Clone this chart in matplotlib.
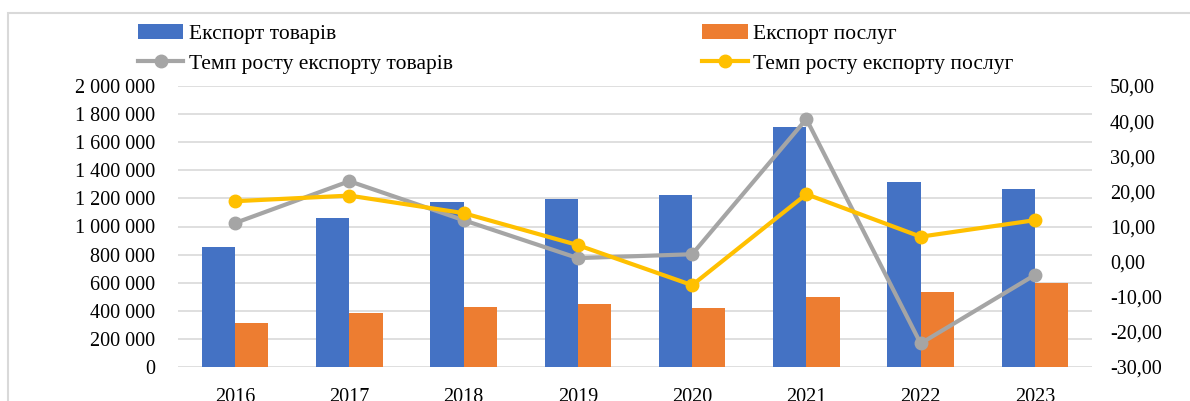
import numpy as np
import matplotlib.pyplot as plt
from matplotlib.patches import Rectangle
from matplotlib.ticker import FuncFormatter

plt.rcParams.update({'font.size': 14.5,
                     'font.family': 'serif',
                     'font.serif': ['Liberation Serif', 'DejaVu Serif']})

years = ['2016', '2017', '2018', '2019', '2020', '2021', '2022', '2023']
goods = [856000, 1058000, 1174000, 1196000, 1224000, 1710000, 1319000, 1265000]
services = [315000, 382000, 427000, 448000, 420000, 496000, 534000, 600000]
goods_growth = [11.0, 22.9, 11.8, 1.0, 2.1, 40.6, -23.3, -3.8]
services_growth = [17.2, 18.8, 13.8, 4.7, -6.7, 19.2, 7.1, 11.8]

fig = plt.figure(figsize=(11.9, 4.01), dpi=100)
ax = fig.add_axes([178/1190, 1-367/401, (1092-178)/1190, (367-86)/401])
ax2 = ax.twinx()

x = np.arange(len(years))
w = 0.29
b1 = ax.bar(x - w/2, goods, w, color='#4472C4', label='Експорт товарів', zorder=2)
b2 = ax.bar(x + w/2, services, w, color='#ED7D31', label='Експорт послуг', zorder=2)

l1, = ax2.plot(x, goods_growth, '-o', color='#A5A5A5', lw=3, ms=9,
               label='Темп росту експорту товарів')
l2, = ax2.plot(x, services_growth, '-o', color='#FFC000', lw=3, ms=9,
               label='Темп росту експорту послуг')

ax.set_xlim(-0.5, 7.5)
ax.set_ylim(0, 2000000)
ax.set_yticks(np.arange(0, 2000001, 200000))
ax.yaxis.set_major_formatter(FuncFormatter(lambda v, p: f'{int(v):,}'.replace(',', ' ')))
ax2.set_ylim(-30, 50)
ax2.set_yticks(np.arange(-30, 51, 10))
ax2.yaxis.set_major_formatter(FuncFormatter(lambda v, p: f'{v:.2f}'.replace('.', ',')))

ax.set_xticks(x)
ax.set_xticklabels(years)
ax.grid(axis='y', color='#D9D9D9', lw=1.2, zorder=0)
ax.set_axisbelow(True)
for a in (ax, ax2):
    for s in a.spines.values():
        s.set_visible(False)
    a.tick_params(length=0)
ax.tick_params(axis='y', pad=16.5)
ax.tick_params(axis='x', pad=15)
ax2.tick_params(axis='y', pad=13)

fig.legend([b1, l1, b2, l2],
           [b1.get_label(), l1.get_label(), b2.get_label(), l2.get_label()],
           ncol=2, loc='upper left', bbox_to_anchor=(138/1190, 1-24/401),
           frameon=False, fontsize=15.5, handlelength=2.1, handletextpad=0.25,
           columnspacing=11.6, labelspacing=0.45, borderaxespad=0,
           borderpad=0)

fig.patches.append(Rectangle((8/1190, -0.1), 1.2, 1-13/401+0.1,
                             transform=fig.transFigure, fill=False,
                             edgecolor='#D9D9D9', lw=1.5))

fig.savefig('out.png', dpi=100)
